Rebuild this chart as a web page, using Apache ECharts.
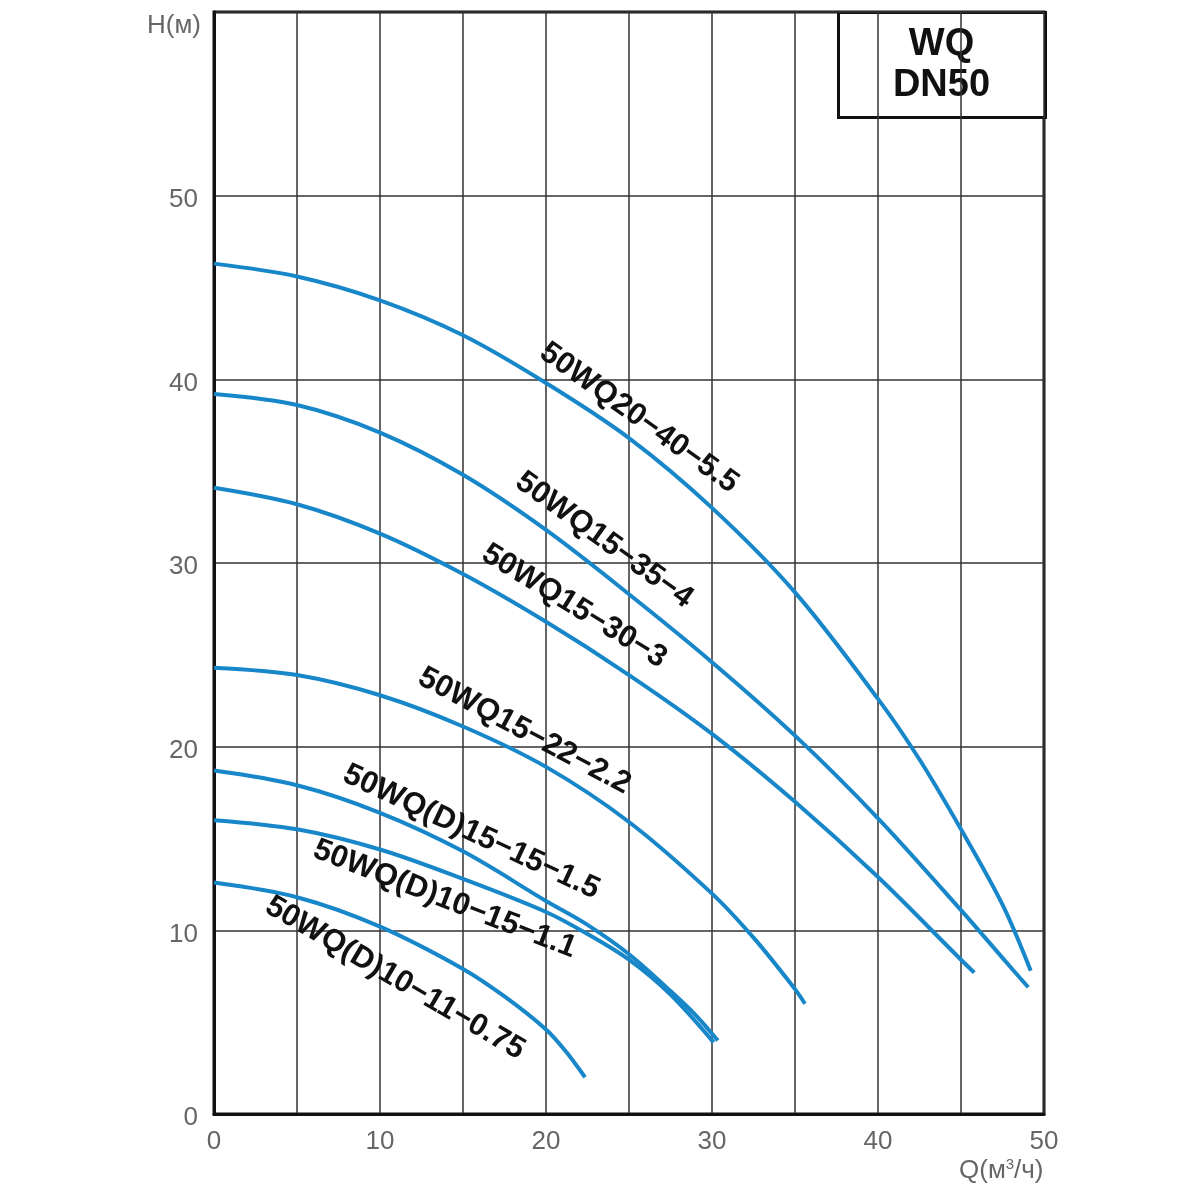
<!DOCTYPE html>
<html>
<head>
<meta charset="utf-8">
<title>WQ DN50</title>
<script src="https://cdn.jsdelivr.net/npm/echarts@6/dist/echarts.min.js"></script>
<style>
	html, body { margin: 0; padding: 0; background: #fff; }
	#main { width: 1200px; height: 1200px; }
</style>
</head>
<body>
<div id="main"></div>
<script>
// modelos (nomes das curvas)
var modelos = [
	'50WQ20−40−5.5',
	'50WQ15−35−4',
	'50WQ15−30−3',
	'50WQ15−22−2.2',
	'50WQ(D)15−15−1.5',
	'50WQ(D)10−15−1.1',
	'50WQ(D)10−11−0.75'
];

// vazao Q (m3/h) e altura H (m) de cada curva
var q1 = [0, 5, 10, 15, 20, 25, 30, 35, 40, 42.5, 45, 47.5, 49.2];
var h1 = [46.3, 45.6, 44.3, 42.4, 39.8, 36.8, 33.0, 28.4, 22.6, 19.3, 15.5, 11.4, 7.8];

var q2 = [0, 5, 10, 15, 20, 25, 30, 35, 40, 45, 47.5, 49.05];
var h2 = [39.2, 38.6, 37.1, 34.8, 31.8, 28.3, 24.6, 20.6, 16.1, 11.1, 8.5, 6.9];

var q3 = [0, 5, 10, 15, 20, 25, 30, 35, 40, 45, 45.8];
var h3 = [34.1, 33.2, 31.6, 29.4, 26.8, 23.9, 20.7, 17.0, 12.9, 8.4, 7.7];

var q4 = [0, 5, 10, 15, 20, 25, 30, 32.5, 35, 35.6];
var h4 = [24.3, 23.9, 22.8, 21.1, 18.9, 15.9, 12.0, 9.6, 6.8, 6.0];

var q5 = [0, 5, 10, 15, 20, 22.5, 25, 27.5, 29, 30.35];
var h5 = [18.7, 17.9, 16.4, 14.3, 11.6, 10.3, 8.7, 6.7, 5.4, 4.0];

var q6 = [0, 5, 10, 15, 20, 22.5, 25, 27.5, 30.1];
var h6 = [16.0, 15.5, 14.4, 12.8, 11.0, 9.8, 8.4, 6.5, 3.9];

var q7 = [0, 5, 10, 15, 17.5, 20, 21.2, 22.35];
var h7 = [12.6, 11.8, 10.2, 7.9, 6.4, 4.6, 3.4, 2.0];

// onde fica o nome de cada curva (Q, H) e a inclinacao do texto
var rotuloQ = [25.6, 23.5, 21.7, 18.7, 15.5, 13.9, 10.9];
var rotuloH = [37.9, 31.25, 27.65, 20.85, 15.35, 11.7, 7.4];
var rotuloAngulo = [-35.6, -35.8, -31.4, -28.1, -25.1, -21.2, -30.3];

var ticksX = [0, 10, 20, 30, 40, 50];
var ticksY = [0, 10, 20, 30, 40, 50];

var vazoes = [q1, q2, q3, q4, q5, q6, q7];
var alturas = [h1, h2, h3, h4, h5, h6, h7];

var azul = '#1787c9';
var fonte = '"Liberation Sans", Arial, sans-serif';

function montarPontos(q, h) {
	let pontos = [];
	for (let i = 0; i < q.length; i++) {
		pontos.push([q[i], h[i]]);
	}
	return pontos;
}

function montarSeries() {
	let series = [];

	for (let i = 0; i < modelos.length; i++) {
		series.push({
			name: modelos[i],
			type: 'line',
			smooth: 0.33,
			symbol: 'none',
			data: montarPontos(vazoes[i], alturas[i]),
			lineStyle: { color: azul, width: 4 },
			z: 3
		});
	}

	let rotulos = [];
	for (let i = 0; i < modelos.length; i++) {
		rotulos.push({
			value: [rotuloQ[i], rotuloH[i]],
			label: { rotate: rotuloAngulo[i], formatter: modelos[i] }
		});
	}

	series.push({
		name: 'rotulos',
		type: 'scatter',
		symbolSize: 0,
		silent: true,
		itemStyle: { opacity: 1 },
		data: rotulos,
		label: {
			show: true,
			position: 'inside',
			align: 'center',
			verticalAlign: 'middle',
			color: '#111',
			opacity: 1,
			fontFamily: fonte,
			fontWeight: 'bold',
			fontSize: 31
		},
		z: 5
	});

	return series;
}

var myChart = echarts.init(document.getElementById('main'));

var option = {
	animation: false,
	backgroundColor: '#fff',
	grid: {
		left: 214,
		right: 156,
		top: 12,
		bottom: 86,
		show: true,
		borderColor: '#111',
		borderWidth: 3
	},
	xAxis: {
		type: 'value',
		min: 0,
		max: 50,
		interval: 5,
		axisLine: { show: true, lineStyle: { color: '#111', width: 3 } },
		axisTick: { show: false },
		axisLabel: {
			color: '#666',
			fontFamily: fonte,
			fontSize: 26,
			margin: 15,
			formatter: function (v) {
				return ticksX.indexOf(v) >= 0 ? String(v) : '';
			}
		},
		splitLine: { show: true, lineStyle: { color: '#333', width: 1.5 } }
	},
	yAxis: {
		type: 'value',
		min: 0,
		max: 60,
		interval: 10,
		axisLine: { show: true, lineStyle: { color: '#111', width: 3 } },
		axisTick: { show: false },
		axisLabel: {
			color: '#666',
			fontFamily: fonte,
			fontSize: 26,
			margin: 16,
			formatter: function (v) {
				return ticksY.indexOf(v) >= 0 ? '{n|' + v + '}' : '';
			},
			rich: {
				n: { color: '#666', fontFamily: fonte, fontSize: 26, padding: [8, 0, 0, 0] }
			}
		},
		splitLine: { show: true, lineStyle: { color: '#333', width: 1.5 } }
	},
	graphic: [
		{
			type: 'text',
			left: 147,
			top: 13,
			style: { text: 'H(м)', fill: '#666', font: '26px ' + fonte }
		},
		{
			type: 'text',
			left: 959,
			top: 1157,
			style: {
				text: 'Q(м{s|3}/ч)',
				fill: '#666',
				font: '26px ' + fonte,
				rich: { s: { fontSize: 15, verticalAlign: 'top', fill: '#666', fontFamily: fonte, padding: [0, 0, 12, 0] } }
			}
		},
		{
			type: 'group',
			left: 837,
			top: 11,
			z: 10,
			children: [
				{
					type: 'rect',
					shape: { x: 0, y: 0, width: 207, height: 105 },
					style: { fill: '#fff', stroke: '#111', lineWidth: 3 }
				},
				{
					type: 'text',
					x: 103,
					y: 53,
					style: {
						text: 'WQ\nDN50',
						align: 'center',
						verticalAlign: 'middle',
						fill: '#111',
						font: 'bold 38px ' + fonte,
						lineHeight: 41
					}
				}
			]
		}
	],
	series: montarSeries()
};

myChart.setOption(option);
</script>
</body>
</html>
